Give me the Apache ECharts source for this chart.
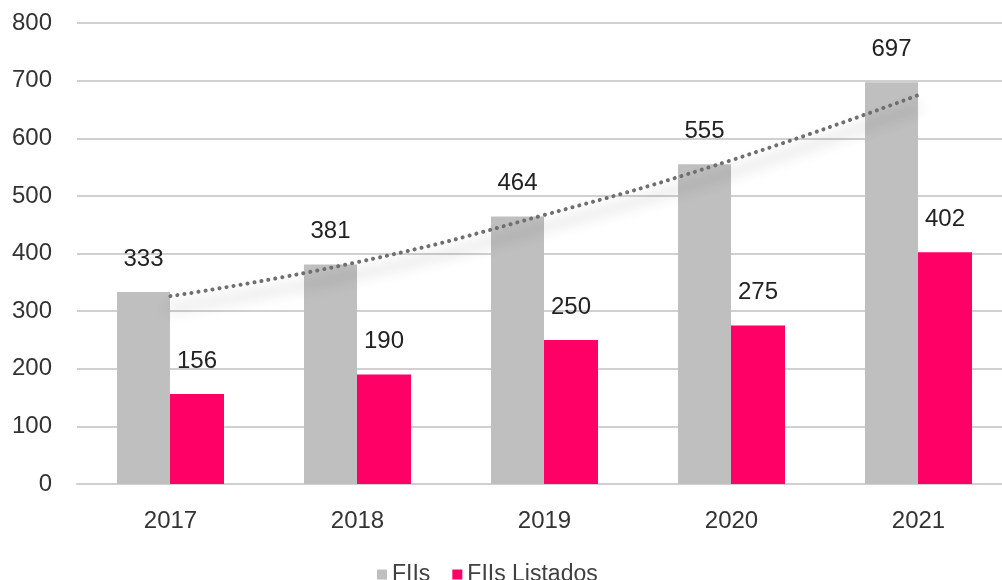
<!DOCTYPE html>
<html>
<head>
<meta charset="utf-8">
<script src="https://cdn.jsdelivr.net/npm/echarts@6/dist/echarts.min.js"></script>
<style>
  html, body { margin: 0; padding: 0; background: #fff; }
  #chart { width: 1002px; height: 580px; }
</style>
</head>
<body>
<div id="chart"></div>
<script>
// data
var years = ['2017', '2018', '2019', '2020', '2021'];
var fiis = [333, 381, 464, 555, 697];
var fiisListados = [156, 190, 250, 275, 402];
// dotted trend line over FIIs (values read at each year)
var trendFiis = [326, 385, 467, 562, 675];

var chart = echarts.init(document.getElementById('chart'));
var font = 'Liberation Sans, Arial, sans-serif';

chart.setOption({
  animation: false,
  textStyle: { fontFamily: font },
  // grid runs past the right edge of the picture, like the original
  grid: { left: 77, width: 935, top: 23, bottom: 96, outerBoundsMode: 'none' },
  legend: {
    data: ['FIIs', 'FIIs Listados'],
    left: 372,
    top: 558,
    itemWidth: 10,
    itemHeight: 10,
    itemGap: 22,
    icon: 'rect',
    textStyle: { fontSize: 23, color: '#404040', fontFamily: font }
  },
  xAxis: {
    type: 'category',
    data: years,
    axisLine: { lineStyle: { color: '#d0d0d0', width: 2 } },
    axisTick: { show: false },
    axisLabel: { fontSize: 24, color: '#333', margin: 25 }
  },
  yAxis: {
    type: 'value',
    min: 0,
    max: 800,
    interval: 100,
    axisLine: { show: false },
    axisTick: { show: false },
    splitLine: { lineStyle: { color: '#d0d0d0', width: 2 } },
    axisLabel: { fontSize: 24, color: '#333', margin: 25 }
  },
  series: [
    {
      name: 'FIIs',
      type: 'bar',
      data: fiis,
      barWidth: 53,
      barGap: 0,
      itemStyle: { color: '#bfbfbf' },
      label: { show: true, position: 'top', distance: 21, fontSize: 24, color: '#222' }
    },
    {
      name: 'FIIs Listados',
      type: 'bar',
      data: fiisListados,
      barWidth: 54,
      itemStyle: { color: '#ff0066' },
      label: { show: true, position: 'top', distance: 21, fontSize: 24, color: '#222' }
    },
    {
      name: 'Tendência',
      type: 'line',
      data: trendFiis,
      smooth: true,
      symbol: 'none',
      z: 5,
      lineStyle: {
        color: '#6f6f6f',
        width: 4,
        cap: 'round',
        type: [0.1, 7],
        shadowColor: 'rgba(0,0,0,0.45)',
        shadowBlur: 14,
        shadowOffsetY: 12
      }
    }
  ]
});
</script>
</body>
</html>
